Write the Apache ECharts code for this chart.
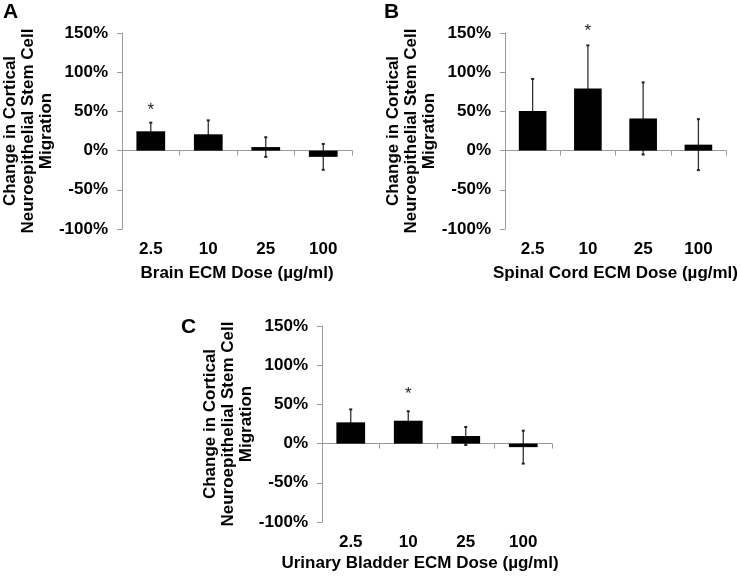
<!DOCTYPE html>
<html><head><meta charset="utf-8">
<script src="https://cdn.jsdelivr.net/npm/echarts@6/dist/echarts.min.js"></script>
<style>html,body{margin:0;padding:0;background:#fff}#c{width:740px;height:576px}</style>
</head><body><div id="c"></div>
<script>
// ---- data ----
const categories = ['2.5', '10', '25', '100'];
const brainMeans = [24.6, 20.8, 4.5, -8];
const brainErrors = [11, 17.8, 12.5, 16.5];
const brainStars = [56, null, null, null];
const spinalMeans = [50.4, 79.2, 41, 7.6];
const spinalErrors = [41, 55, 46, 32.5];
const spinalStars = [null, 157, null, null];
const bladderMeans = [27.1, 29.2, 9.7, -4.5];
const bladderErrors = [16.5, 12, 11.5, 21];
const bladderStars = [null, 68, null, null];
const panelLetters = ['A', 'B', 'C'];
const xNames = ['Brain ECM Dose (µg/ml)', 'Spinal Cord ECM Dose (µg/ml)', 'Urinary Bladder ECM Dose (µg/ml)'];
const yName = 'Change in Cortical\nNeuroepithelial Stem Cell\nMigration';
const yMin = -100, yMax = 150, yStep = 50;

// ---- layout / style ----
const FONT = '"Liberation Sans", Arial, sans-serif';
const AXIS_GREY = '#9a9a9a';
const panels = [
  { means: brainMeans, errs: brainErrors, stars: brainStars, grid: { left: 121, top: 33, width: 231, height: 196 }, title: { left: 3, top: 2 }, nameGap: 36, namePad: [0, 0, 0, 0] },
  { means: spinalMeans, errs: spinalErrors, stars: spinalStars, grid: { left: 505, top: 33, width: 232, height: 196 }, title: { left: 384, top: 2 }, nameGap: 36, namePad: [0, 0, 0, 0] },
  { means: bladderMeans, errs: bladderErrors, stars: bladderStars, grid: { left: 322, top: 326, width: 230, height: 196 }, title: { left: 181, top: 317 }, nameGap: 33, namePad: [0, 34, 0, 0] }
];

function renderErr(params, api) {
  const x = api.value(0), m = api.value(1), e = api.value(2);
  const top = api.coord([x, m + e]);
  const bot = api.coord([x, m - e]);
  const cap = 1.5;
  const st = { stroke: '#333', lineWidth: 1.3 };
  return {
    type: 'group', children: [
      { type: 'line', shape: { x1: top[0], y1: top[1], x2: bot[0], y2: bot[1] }, style: st },
      { type: 'line', shape: { x1: top[0] - cap, y1: top[1], x2: top[0] + cap, y2: top[1] }, style: { stroke: '#222', lineWidth: 2 } },
      { type: 'line', shape: { x1: bot[0] - cap, y1: bot[1], x2: bot[0] + cap, y2: bot[1] }, style: { stroke: '#222', lineWidth: 2 } }
    ]
  };
}
function renderStar(params, api) {
  const p = api.coord([api.value(0), api.value(1)]);
  return {
    type: 'text', x: p[0], y: p[1] + 4,
    style: { text: '*', fill: '#222', font: '17px ' + FONT, align: 'center', verticalAlign: 'middle', textAlign: 'center', textVerticalAlign: 'middle' }
  };
}

const option = { backgroundColor: '#fff', animation: false, title: [], grid: [], xAxis: [], yAxis: [], series: [] };
panels.forEach((p, i) => {
  option.title.push({ text: panelLetters[i], left: p.title.left, top: p.title.top, padding: 0,
    textStyle: { fontSize: 21, fontWeight: 'bold', color: '#000', fontFamily: FONT } });
  option.grid.push(Object.assign({ containLabel: false }, p.grid));
  // zero-line axis with ticks
  option.xAxis.push({ type: 'category', gridIndex: i, data: categories, position: 'bottom',
    axisLine: { show: true, onZero: true, lineStyle: { color: AXIS_GREY, width: 1 } },
    axisTick: { show: true, length: 5, lineStyle: { color: AXIS_GREY } },
    axisLabel: { show: false }, splitLine: { show: false } });
  // bottom label axis
  option.xAxis.push({ type: 'category', gridIndex: i, data: categories, position: 'bottom',
    axisLine: { show: false, onZero: false }, axisTick: { show: false }, splitLine: { show: false },
    axisLabel: { margin: 12, fontSize: 17, fontWeight: 'bold', color: '#000', fontFamily: FONT },
    name: xNames[i], nameLocation: 'middle', nameGap: p.nameGap,
    nameTextStyle: { fontSize: 17, fontWeight: 'bold', color: '#000', fontFamily: FONT, padding: p.namePad } });
  option.yAxis.push({ type: 'value', gridIndex: i, min: yMin, max: yMax, interval: yStep,
    axisLine: { show: true, lineStyle: { color: AXIS_GREY, width: 1 } },
    axisTick: { show: true, length: 5, lineStyle: { color: AXIS_GREY } },
    splitLine: { show: false },
    axisLabel: { formatter: '{value}%', margin: 14, fontSize: 17, fontWeight: 'bold', color: '#000', fontFamily: FONT },
    name: yName, nameLocation: 'middle', nameRotate: 90, nameGap: 63,
    nameTextStyle: { fontSize: 17, fontWeight: 'bold', color: '#000', fontFamily: FONT, lineHeight: 18, align: 'center' } });
  option.series.push({ type: 'bar', xAxisIndex: 2 * i, yAxisIndex: i, data: p.means, barWidth: '50%',
    itemStyle: { color: '#000' }, silent: true });
  option.series.push({ type: 'custom', xAxisIndex: 2 * i, yAxisIndex: i, renderItem: renderErr,
    encode: { x: 0, y: 1 }, data: p.means.map((m, k) => [k, m, p.errs[k]]), clip: false, silent: true });
  option.series.push({ type: 'custom', xAxisIndex: 2 * i, yAxisIndex: i, renderItem: renderStar,
    encode: { x: 0, y: 1 }, data: p.stars.map((s, k) => s == null ? null : [k, s]).filter(d => d), clip: false, silent: true });
});

const chart = echarts.init(document.getElementById('c'), null, { renderer: 'canvas' });
chart.setOption(option);
</script></body></html>
